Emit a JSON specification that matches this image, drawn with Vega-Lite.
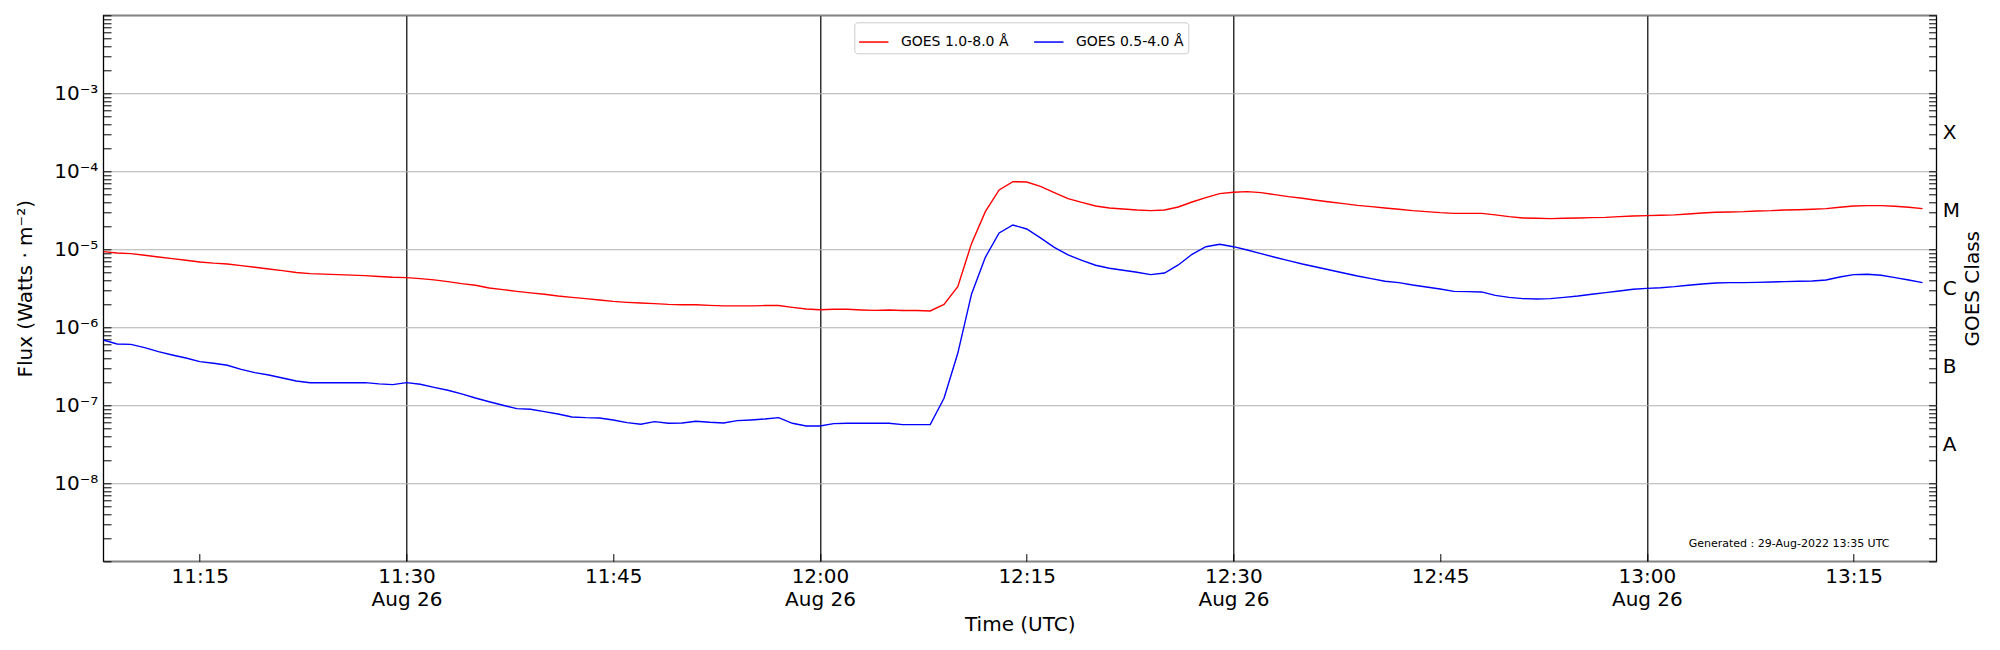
{
  "$schema": "https://vega.github.io/schema/vega-lite/v6.json",
  "width": 1833,
  "height": 546,
  "autosize": {"type": "none"},
  "padding": {"left": 103.3, "top": 15.3, "right": 63.7, "bottom": 88.7},
  "background": "white",
  "config": {
    "view": {"stroke": "black", "strokeWidth": 1.3},
    "font": "DejaVu Sans",
    "axis": {
      "labelFont": "DejaVu Sans",
      "titleFont": "DejaVu Sans",
      "labelColor": "black",
      "titleColor": "black",
      "labelFontSize": 20,
      "titleFontSize": 20,
      "titleFontWeight": "normal",
      "domain": false,
      "tickColor": "black",
      "tickWidth": 1,
      "labelOverlap": false,
      "labelFlush": false,
      "labelBound": false
    }
  },
  "resolve": {"axis": {"x": "independent", "y": "independent"}},
  "layer": [
    {
      "data": {
        "values": [
          {"time": "2022-08-26T11:08:00Z", "long": 9.33e-6, "short": 6.88e-7},
          {"time": "2022-08-26T11:09:00Z", "long": 8.97e-6, "short": 6.11e-7},
          {"time": "2022-08-26T11:10:00Z", "long": 8.80e-6, "short": 6.05e-7},
          {"time": "2022-08-26T11:11:00Z", "long": 8.38e-6, "short": 5.49e-7},
          {"time": "2022-08-26T11:12:00Z", "long": 7.97e-6, "short": 4.88e-7},
          {"time": "2022-08-26T11:13:00Z", "long": 7.59e-6, "short": 4.42e-7},
          {"time": "2022-08-26T11:14:00Z", "long": 7.23e-6, "short": 4.04e-7},
          {"time": "2022-08-26T11:15:00Z", "long": 6.88e-6, "short": 3.63e-7},
          {"time": "2022-08-26T11:16:00Z", "long": 6.65e-6, "short": 3.46e-7},
          {"time": "2022-08-26T11:17:00Z", "long": 6.49e-6, "short": 3.26e-7},
          {"time": "2022-08-26T11:18:00Z", "long": 6.17e-6, "short": 2.89e-7},
          {"time": "2022-08-26T11:19:00Z", "long": 5.88e-6, "short": 2.62e-7},
          {"time": "2022-08-26T11:20:00Z", "long": 5.60e-6, "short": 2.45e-7},
          {"time": "2022-08-26T11:21:00Z", "long": 5.33e-6, "short": 2.24e-7},
          {"time": "2022-08-26T11:22:00Z", "long": 5.05e-6, "short": 2.05e-7},
          {"time": "2022-08-26T11:23:00Z", "long": 4.88e-6, "short": 1.95e-7},
          {"time": "2022-08-26T11:24:00Z", "long": 4.80e-6, "short": 1.95e-7},
          {"time": "2022-08-26T11:25:00Z", "long": 4.73e-6, "short": 1.95e-7},
          {"time": "2022-08-26T11:26:00Z", "long": 4.66e-6, "short": 1.95e-7},
          {"time": "2022-08-26T11:27:00Z", "long": 4.60e-6, "short": 1.95e-7},
          {"time": "2022-08-26T11:28:00Z", "long": 4.48e-6, "short": 1.88e-7},
          {"time": "2022-08-26T11:29:00Z", "long": 4.38e-6, "short": 1.84e-7},
          {"time": "2022-08-26T11:30:00Z", "long": 4.33e-6, "short": 1.95e-7},
          {"time": "2022-08-26T11:31:00Z", "long": 4.21e-6, "short": 1.86e-7},
          {"time": "2022-08-26T11:32:00Z", "long": 4.05e-6, "short": 1.70e-7},
          {"time": "2022-08-26T11:33:00Z", "long": 3.85e-6, "short": 1.56e-7},
          {"time": "2022-08-26T11:34:00Z", "long": 3.63e-6, "short": 1.40e-7},
          {"time": "2022-08-26T11:35:00Z", "long": 3.46e-6, "short": 1.24e-7},
          {"time": "2022-08-26T11:36:00Z", "long": 3.19e-6, "short": 1.11e-7},
          {"time": "2022-08-26T11:37:00Z", "long": 3.04e-6, "short": 1.00e-7},
          {"time": "2022-08-26T11:38:00Z", "long": 2.89e-6, "short": 9.06e-8},
          {"time": "2022-08-26T11:39:00Z", "long": 2.76e-6, "short": 8.89e-8},
          {"time": "2022-08-26T11:40:00Z", "long": 2.65e-6, "short": 8.29e-8},
          {"time": "2022-08-26T11:41:00Z", "long": 2.52e-6, "short": 7.74e-8},
          {"time": "2022-08-26T11:42:00Z", "long": 2.42e-6, "short": 7.09e-8},
          {"time": "2022-08-26T11:43:00Z", "long": 2.33e-6, "short": 6.95e-8},
          {"time": "2022-08-26T11:44:00Z", "long": 2.24e-6, "short": 6.88e-8},
          {"time": "2022-08-26T11:45:00Z", "long": 2.15e-6, "short": 6.49e-8},
          {"time": "2022-08-26T11:46:00Z", "long": 2.09e-6, "short": 6.00e-8},
          {"time": "2022-08-26T11:47:00Z", "long": 2.05e-6, "short": 5.71e-8},
          {"time": "2022-08-26T11:48:00Z", "long": 2.01e-6, "short": 6.18e-8},
          {"time": "2022-08-26T11:49:00Z", "long": 1.97e-6, "short": 5.88e-8},
          {"time": "2022-08-26T11:50:00Z", "long": 1.95e-6, "short": 5.94e-8},
          {"time": "2022-08-26T11:51:00Z", "long": 1.95e-6, "short": 6.24e-8},
          {"time": "2022-08-26T11:52:00Z", "long": 1.91e-6, "short": 6.06e-8},
          {"time": "2022-08-26T11:53:00Z", "long": 1.88e-6, "short": 5.94e-8},
          {"time": "2022-08-26T11:54:00Z", "long": 1.88e-6, "short": 6.36e-8},
          {"time": "2022-08-26T11:55:00Z", "long": 1.88e-6, "short": 6.49e-8},
          {"time": "2022-08-26T11:56:00Z", "long": 1.90e-6, "short": 6.68e-8},
          {"time": "2022-08-26T11:57:00Z", "long": 1.90e-6, "short": 6.95e-8},
          {"time": "2022-08-26T11:58:00Z", "long": 1.80e-6, "short": 5.88e-8},
          {"time": "2022-08-26T11:59:00Z", "long": 1.72e-6, "short": 5.43e-8},
          {"time": "2022-08-26T12:00:00Z", "long": 1.68e-6, "short": 5.43e-8},
          {"time": "2022-08-26T12:01:00Z", "long": 1.70e-6, "short": 5.82e-8},
          {"time": "2022-08-26T12:02:00Z", "long": 1.70e-6, "short": 5.88e-8},
          {"time": "2022-08-26T12:03:00Z", "long": 1.67e-6, "short": 5.88e-8},
          {"time": "2022-08-26T12:04:00Z", "long": 1.65e-6, "short": 5.88e-8},
          {"time": "2022-08-26T12:05:00Z", "long": 1.67e-6, "short": 5.88e-8},
          {"time": "2022-08-26T12:06:00Z", "long": 1.64e-6, "short": 5.65e-8},
          {"time": "2022-08-26T12:07:00Z", "long": 1.64e-6, "short": 5.65e-8},
          {"time": "2022-08-26T12:08:00Z", "long": 1.62e-6, "short": 5.65e-8},
          {"time": "2022-08-26T12:09:00Z", "long": 1.97e-6, "short": 1.23e-7},
          {"time": "2022-08-26T12:10:00Z", "long": 3.32e-6, "short": 4.64e-7},
          {"time": "2022-08-26T12:11:00Z", "long": 1.19e-5, "short": 2.68e-6},
          {"time": "2022-08-26T12:12:00Z", "long": 3.04e-5, "short": 7.90e-6},
          {"time": "2022-08-26T12:13:00Z", "long": 5.76e-5, "short": 1.62e-5},
          {"time": "2022-08-26T12:14:00Z", "long": 7.37e-5, "short": 2.05e-5},
          {"time": "2022-08-26T12:15:00Z", "long": 7.30e-5, "short": 1.82e-5},
          {"time": "2022-08-26T12:16:00Z", "long": 6.42e-5, "short": 1.40e-5},
          {"time": "2022-08-26T12:17:00Z", "long": 5.33e-5, "short": 1.06e-5},
          {"time": "2022-08-26T12:18:00Z", "long": 4.46e-5, "short": 8.46e-6},
          {"time": "2022-08-26T12:19:00Z", "long": 4.00e-5, "short": 7.23e-6},
          {"time": "2022-08-26T12:20:00Z", "long": 3.59e-5, "short": 6.24e-6},
          {"time": "2022-08-26T12:21:00Z", "long": 3.39e-5, "short": 5.71e-6},
          {"time": "2022-08-26T12:22:00Z", "long": 3.29e-5, "short": 5.38e-6},
          {"time": "2022-08-26T12:23:00Z", "long": 3.19e-5, "short": 5.07e-6},
          {"time": "2022-08-26T12:24:00Z", "long": 3.13e-5, "short": 4.73e-6},
          {"time": "2022-08-26T12:25:00Z", "long": 3.19e-5, "short": 4.97e-6},
          {"time": "2022-08-26T12:26:00Z", "long": 3.49e-5, "short": 6.30e-6},
          {"time": "2022-08-26T12:27:00Z", "long": 4.04e-5, "short": 8.63e-6},
          {"time": "2022-08-26T12:28:00Z", "long": 4.60e-5, "short": 1.08e-5},
          {"time": "2022-08-26T12:29:00Z", "long": 5.17e-5, "short": 1.16e-5},
          {"time": "2022-08-26T12:30:00Z", "long": 5.38e-5, "short": 1.08e-5},
          {"time": "2022-08-26T12:31:00Z", "long": 5.49e-5, "short": 9.81e-6},
          {"time": "2022-08-26T12:32:00Z", "long": 5.33e-5, "short": 8.80e-6},
          {"time": "2022-08-26T12:33:00Z", "long": 5.02e-5, "short": 7.90e-6},
          {"time": "2022-08-26T12:34:00Z", "long": 4.73e-5, "short": 7.16e-6},
          {"time": "2022-08-26T12:35:00Z", "long": 4.51e-5, "short": 6.49e-6},
          {"time": "2022-08-26T12:36:00Z", "long": 4.25e-5, "short": 5.94e-6},
          {"time": "2022-08-26T12:37:00Z", "long": 4.04e-5, "short": 5.43e-6},
          {"time": "2022-08-26T12:38:00Z", "long": 3.85e-5, "short": 4.97e-6},
          {"time": "2022-08-26T12:39:00Z", "long": 3.66e-5, "short": 4.55e-6},
          {"time": "2022-08-26T12:40:00Z", "long": 3.52e-5, "short": 4.21e-6},
          {"time": "2022-08-26T12:41:00Z", "long": 3.39e-5, "short": 3.89e-6},
          {"time": "2022-08-26T12:42:00Z", "long": 3.26e-5, "short": 3.74e-6},
          {"time": "2022-08-26T12:43:00Z", "long": 3.13e-5, "short": 3.49e-6},
          {"time": "2022-08-26T12:44:00Z", "long": 3.04e-5, "short": 3.29e-6},
          {"time": "2022-08-26T12:45:00Z", "long": 2.95e-5, "short": 3.10e-6},
          {"time": "2022-08-26T12:46:00Z", "long": 2.89e-5, "short": 2.89e-6},
          {"time": "2022-08-26T12:47:00Z", "long": 2.89e-5, "short": 2.87e-6},
          {"time": "2022-08-26T12:48:00Z", "long": 2.89e-5, "short": 2.84e-6},
          {"time": "2022-08-26T12:49:00Z", "long": 2.76e-5, "short": 2.57e-6},
          {"time": "2022-08-26T12:50:00Z", "long": 2.62e-5, "short": 2.42e-6},
          {"time": "2022-08-26T12:51:00Z", "long": 2.52e-5, "short": 2.33e-6},
          {"time": "2022-08-26T12:52:00Z", "long": 2.50e-5, "short": 2.31e-6},
          {"time": "2022-08-26T12:53:00Z", "long": 2.47e-5, "short": 2.33e-6},
          {"time": "2022-08-26T12:54:00Z", "long": 2.50e-5, "short": 2.42e-6},
          {"time": "2022-08-26T12:55:00Z", "long": 2.52e-5, "short": 2.52e-6},
          {"time": "2022-08-26T12:56:00Z", "long": 2.55e-5, "short": 2.65e-6},
          {"time": "2022-08-26T12:57:00Z", "long": 2.57e-5, "short": 2.78e-6},
          {"time": "2022-08-26T12:58:00Z", "long": 2.62e-5, "short": 2.92e-6},
          {"time": "2022-08-26T12:59:00Z", "long": 2.67e-5, "short": 3.07e-6},
          {"time": "2022-08-26T13:00:00Z", "long": 2.70e-5, "short": 3.16e-6},
          {"time": "2022-08-26T13:01:00Z", "long": 2.73e-5, "short": 3.22e-6},
          {"time": "2022-08-26T13:02:00Z", "long": 2.76e-5, "short": 3.32e-6},
          {"time": "2022-08-26T13:03:00Z", "long": 2.84e-5, "short": 3.46e-6},
          {"time": "2022-08-26T13:04:00Z", "long": 2.92e-5, "short": 3.59e-6},
          {"time": "2022-08-26T13:05:00Z", "long": 2.98e-5, "short": 3.70e-6},
          {"time": "2022-08-26T13:06:00Z", "long": 3.01e-5, "short": 3.74e-6},
          {"time": "2022-08-26T13:07:00Z", "long": 3.04e-5, "short": 3.74e-6},
          {"time": "2022-08-26T13:08:00Z", "long": 3.10e-5, "short": 3.77e-6},
          {"time": "2022-08-26T13:09:00Z", "long": 3.13e-5, "short": 3.81e-6},
          {"time": "2022-08-26T13:10:00Z", "long": 3.19e-5, "short": 3.85e-6},
          {"time": "2022-08-26T13:11:00Z", "long": 3.22e-5, "short": 3.89e-6},
          {"time": "2022-08-26T13:12:00Z", "long": 3.26e-5, "short": 3.93e-6},
          {"time": "2022-08-26T13:13:00Z", "long": 3.32e-5, "short": 4.04e-6},
          {"time": "2022-08-26T13:14:00Z", "long": 3.46e-5, "short": 4.42e-6},
          {"time": "2022-08-26T13:15:00Z", "long": 3.59e-5, "short": 4.73e-6},
          {"time": "2022-08-26T13:16:00Z", "long": 3.63e-5, "short": 4.78e-6},
          {"time": "2022-08-26T13:17:00Z", "long": 3.63e-5, "short": 4.64e-6},
          {"time": "2022-08-26T13:18:00Z", "long": 3.56e-5, "short": 4.33e-6},
          {"time": "2022-08-26T13:19:00Z", "long": 3.46e-5, "short": 4.04e-6},
          {"time": "2022-08-26T13:20:00Z", "long": 3.32e-5, "short": 3.74e-6}
        ]
      },
      "transform": [{"fold": ["long", "short"], "as": ["channel", "flux"]}],
      "mark": {"type": "line", "strokeWidth": 1.4, "clip": true},
      "encoding": {
        "x": {
          "field": "time",
          "type": "temporal",
          "scale": {
            "type": "utc",
            "domain": [
              {"year": 2022, "month": 8, "date": 26, "hours": 11, "minutes": 8, "utc": true},
              {"year": 2022, "month": 8, "date": 26, "hours": 13, "minutes": 21, "utc": true}
            ]
          },
          "axis": {
            "orient": "bottom",
            "values": [
              {"year": 2022, "month": 8, "date": 26, "hours": 11, "minutes": 15, "utc": true},
              {"year": 2022, "month": 8, "date": 26, "hours": 11, "minutes": 30, "utc": true},
              {"year": 2022, "month": 8, "date": 26, "hours": 11, "minutes": 45, "utc": true},
              {"year": 2022, "month": 8, "date": 26, "hours": 12, "minutes": 0, "utc": true},
              {"year": 2022, "month": 8, "date": 26, "hours": 12, "minutes": 15, "utc": true},
              {"year": 2022, "month": 8, "date": 26, "hours": 12, "minutes": 30, "utc": true},
              {"year": 2022, "month": 8, "date": 26, "hours": 12, "minutes": 45, "utc": true},
              {"year": 2022, "month": 8, "date": 26, "hours": 13, "minutes": 0, "utc": true},
              {"year": 2022, "month": 8, "date": 26, "hours": 13, "minutes": 15, "utc": true}
            ],
            "labelExpr": "utcminutes(datum.value) % 30 == 0 ? [utcFormat(datum.value, '%H:%M'), 'Aug 26'] : utcFormat(datum.value, '%H:%M')",
            "labelLineHeight": 23,
            "labelPadding": 12.5,
            "tickSize": -7.7,
            "grid": true,
            "gridColor": "black",
            "gridWidth": 1.2,
            "gridOpacity": {"condition": {"test": "utcminutes(datum.value) % 30 == 0", "value": 1}, "value": 0},
            "title": "Time (UTC)",
            "titlePadding": 5
          }
        },
        "y": {
          "field": "flux",
          "type": "quantitative",
          "scale": {"type": "log", "domain": [1e-9, 1e-2], "nice": false},
          "axis": {
            "orient": "left",
            "values": [
              1e-9, 2e-9, 3e-9, 4e-9, 5e-9, 6e-9, 7e-9, 8e-9, 9e-9,
              1e-8, 2e-8, 3e-8, 4e-8, 5e-8, 6e-8, 7e-8, 8e-8, 9e-8,
              1e-7, 2e-7, 3e-7, 4e-7, 5e-7, 6e-7, 7e-7, 8e-7, 9e-7,
              1e-6, 2e-6, 3e-6, 4e-6, 5e-6, 6e-6, 7e-6, 8e-6, 9e-6,
              1e-5, 2e-5, 3e-5, 4e-5, 5e-5, 6e-5, 7e-5, 8e-5, 9e-5,
              1e-4, 2e-4, 3e-4, 4e-4, 5e-4, 6e-4, 7e-4, 8e-4, 9e-4,
              1e-3, 2e-3, 3e-3, 4e-3, 5e-3, 6e-3, 7e-3, 8e-3, 9e-3,
              1e-2
            ],
            "labelExpr": "abs(log(datum.value) / LN10 - round(log(datum.value) / LN10)) < 0.01 && round(log(datum.value) / LN10) >= -8 && round(log(datum.value) / LN10) <= -3 ? ['10⁻⁸', '10⁻⁷', '10⁻⁶', '10⁻⁵', '10⁻⁴', '10⁻³'][round(log(datum.value) / LN10) + 8] : ''",
            "labelPadding": 13.2,
            "tickSize": -7.7,
            "grid": true,
            "gridColor": "#b0b0b0",
            "gridWidth": 1.1,
            "gridOpacity": {"condition": {"test": "abs(log(datum.value) / LN10 - round(log(datum.value) / LN10)) < 0.01", "value": 1}, "value": 0},
            "title": "Flux (Watts · m⁻²)",
            "titlePadding": 18
          }
        },
        "color": {
          "field": "channel",
          "type": "nominal",
          "scale": {"domain": ["long", "short"], "range": ["#ff0000", "#0000ff"]},
          "legend": {
            "title": null,
            "orient": "none",
            "legendX": 751,
            "legendY": 7,
            "direction": "horizontal",
            "symbolType": "stroke",
            "symbolSize": 860,
            "symbolStrokeWidth": 1.5,
            "labelFont": "DejaVu Sans",
            "labelFontSize": 14,
            "labelColor": "black",
            "labelOffset": 11.6,
            "columnPadding": 21,
            "padding": 4,
            "fillColor": "white",
            "strokeColor": "#cccccc",
            "cornerRadius": 3,
            "labelExpr": "datum.label == 'long' ? 'GOES 1.0-8.0 Å' : 'GOES 0.5-4.0 Å'"
          }
        }
      }
    },
    {
      "data": {
        "values": [
          {"time": "2022-08-26T13:17:36Z", "flux": 1.67e-9, "note": "Generated : 29-Aug-2022 13:35 UTC"}
        ]
      },
      "mark": {"type": "text", "align": "right", "baseline": "middle", "fontSize": 11, "font": "DejaVu Sans", "color": "black"},
      "encoding": {
        "x": {"field": "time", "type": "temporal", "axis": null},
        "y": {
          "field": "flux",
          "type": "quantitative",
          "scale": {"type": "log", "domain": [1e-9, 1e-2], "nice": false},
          "axis": {
            "orient": "right",
            "values": [
              1e-9, 2e-9, 3e-9, 4e-9, 5e-9, 6e-9, 7e-9, 8e-9, 9e-9,
              1e-8, 2e-8, 3e-8, 4e-8, 5e-8, 6e-8, 7e-8, 8e-8, 9e-8,
              1e-7, 2e-7, 3e-7, 4e-7, 5e-7, 6e-7, 7e-7, 8e-7, 9e-7,
              1e-6, 2e-6, 3e-6, 4e-6, 5e-6, 6e-6, 7e-6, 8e-6, 9e-6,
              1e-5, 2e-5, 3e-5, 4e-5, 5e-5, 6e-5, 7e-5, 8e-5, 9e-5,
              1e-4, 2e-4, 3e-4, 4e-4, 5e-4, 6e-4, 7e-4, 8e-4, 9e-4,
              1e-3, 2e-3, 3e-3, 4e-3, 5e-3, 6e-3, 7e-3, 8e-3, 9e-3,
              1e-2,
              3.1623e-8, 3.1623e-7, 3.1623e-6, 3.1623e-5, 3.1623e-4
            ],
            "labelExpr": "abs(log(datum.value) / LN10 - floor(log(datum.value) / LN10) - 0.5) < 0.005 ? ['A', 'B', 'C', 'M', 'X'][floor(log(datum.value) / LN10) + 8] : ''",
            "labelPadding": 13.7,
            "tickSize": -7.7,
            "tickOpacity": {"condition": {"test": "abs(log(datum.value) / LN10 - floor(log(datum.value) / LN10) - 0.5) < 0.005", "value": 0}, "value": 1},
            "grid": false,
            "title": "GOES Class",
            "titleAngle": -90,
            "titleBaseline": "top",
            "titlePadding": 3
          }
        },
        "text": {"field": "note", "type": "nominal"}
      }
    }
  ]
}
